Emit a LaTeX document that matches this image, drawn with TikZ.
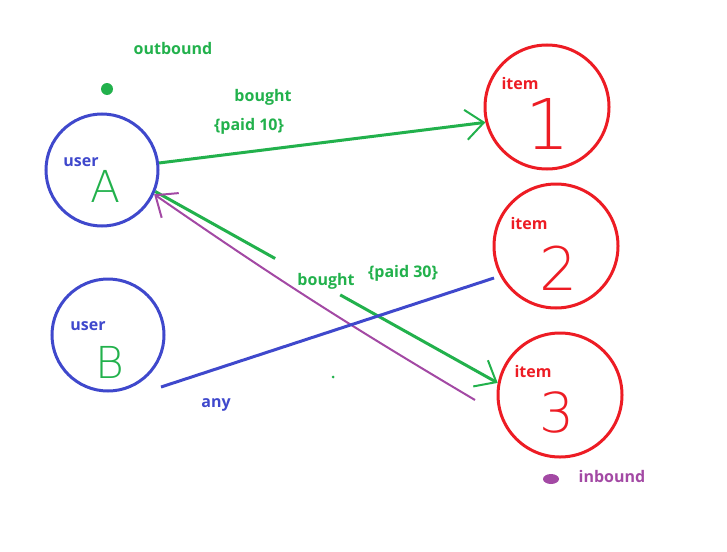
\documentclass[tikz,border=0pt]{standalone}
\usepackage{fontspec}
\setsansfont{Open Sans}
\newfontfamily\handfont{DejaVu Sans ExtraLight}
\usetikzlibrary{arrows.meta,calc}
\definecolor{paintgreen}{RGB}{34,177,76}
\definecolor{paintblue}{RGB}{63,72,204}
\definecolor{paintred}{RGB}{237,28,36}
\definecolor{paintpurple}{RGB}{163,73,164}
\tikzset{
  vertex/.style={circle, line width=3pt, inner sep=0pt},
  userbox/.style={vertex, draw=paintblue, minimum size=112pt},
  itembox/.style={vertex, draw=paintred, minimum size=124pt},
  tagtext/.style={font=\sffamily\bfseries\fontsize{16}{16}\selectfont, inner sep=0pt},
  hand/.style={font=\handfont\fontsize{#1}{#1}\selectfont, inner sep=0pt, text=paintgreen},
  barb/.style={-{Straight Barb[length=18pt, width=30pt, line width=2pt]}},
  bought/.style={draw=paintgreen, line width=3pt, barb},
}
\begin{document}
\begin{tikzpicture}[x=1pt, y=-1pt]
  \useasboundingbox (0,0) rectangle (727,551);
  % vertices
  \node[userbox] (userA) at (102,170) {};
  \node[userbox] (userB) at (108,335) {};
  \node[itembox] (item1) at (547,107) {};
  \node[itembox] (item2) at (556,246) {};
  \node[itembox] (item3) at (560,395) {};
  % texts inside
  \node[tagtext, text=paintblue] (userAtxt) at (81,162) {user};
  \node[tagtext, text=paintblue] (userBtxt) at (88,326) {user};
  \node[tagtext, text=paintred] (item1txt) at (520,83) {item};
  \node[tagtext, text=paintred] (item2txt) at (529,223) {item};
  \node[tagtext, text=paintred] (item3txt) at (533,371) {item};
  \node[hand=44] (nameA) at (106,186) {A};
  \node[hand=44] (nameB) at (110,362) {B};
  \node[hand=70, text=paintred] (name1) at (548,124) {1};
  \node[hand=60, text=paintred] (name2) at (559,268) {2};
  \node[hand=55, text=paintred] (name3) at (557,412) {3};
  % edges
  \draw[bought] (userA.7) -- (item1.194);
  \draw[draw=paintgreen, line width=3pt] (userA.-22) -- ($(userA.-22)!0.35!(item3.169)$);
  \draw[bought] ($(userA.-22)!0.54!(item3.169)$) -- (item3.169);
  \coordinate (inStart) at (475,400);
  \draw[draw=paintpurple, line width=2pt, barb] (inStart) to[bend left=2] (userA.-25);
  \coordinate (anyStart) at ($(userB)+(53,52)$);
  \coordinate (anyEnd) at ($(item2)+(-62,32)$);
  \draw[draw=paintblue, line width=3pt] (anyStart) -- (anyEnd);
  % labels
  \node[tagtext, text=paintgreen] (outTxt) at (173,48) {outbound};
  \node[tagtext, text=paintgreen] (bought1) at (263,97) {bought};
  \node[tagtext, text=paintgreen] (paid1) at (249,126) {\{paid 10\}};
  \node[tagtext, text=paintgreen] (bought3) at (326,281) {bought};
  \node[tagtext, text=paintgreen] (paid3) at (403,273) {\{paid 30\}};
  \node[tagtext, text=paintblue] (anyTxt) at (216,405) {any};
  \node[tagtext, text=paintpurple] (inTxt) at (612,476) {inbound};
  % marks
  \fill[paintgreen] (107,89) circle (6pt);
  \fill[paintgreen] (333,377) circle (1.5pt);
  \fill[paintpurple] (551,479) ellipse [x radius=8pt, y radius=5pt];
\end{tikzpicture}
\end{document}
